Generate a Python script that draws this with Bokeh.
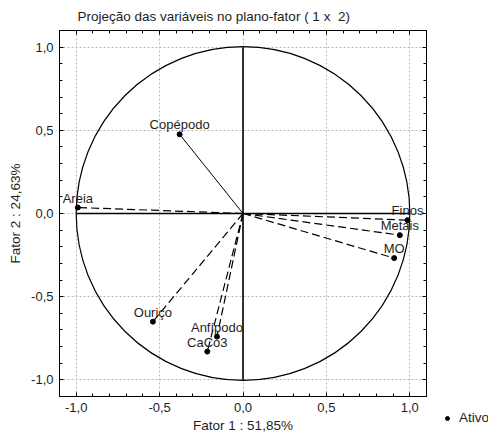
from bokeh.plotting import figure
from bokeh.models import (ColumnDataSource, FixedTicker, LinearAxis, Range1d,
                          Legend, LegendItem, Title)
from bokeh.layouts import row, column
from bokeh.core.properties import value
from bokeh.embed import file_html
from bokeh.resources import INLINE

# ---- data ----
names = ["Areia", "Copépodo", "Finos", "Metais", "MO", "Ouriço", "Anfípodo", "CaCo3"]
fator1 = [-0.99, -0.38, 0.986, 0.94, 0.906, -0.54, -0.156, -0.214]
fator2 = [0.036, 0.476, -0.04, -0.13, -0.268, -0.65, -0.74, -0.83]
solid_names = ["Copépodo"]

major_ticks = [-1.0, -0.5, 0.0, 0.5, 1.0]
major_labels = ["-1,0", "-0,5", "0,0", "0,5", "1,0"]
minor_ticks = [round(-1.1 + 0.1 * i, 2) for i in range(23)]

title_text = "Projeção das variáveis no plano-fator ( 1 x \u00a02)"
xlabel_text = "Fator 1 : 51,85%"
ylabel_text = "Fator 2 : 24,63%"
legend_text = "Ativo"
legend_marker_x = [0.0]   # key proxy, lies outside its own panel's visible range
legend_marker_y = [0.0]

FONT = "Liberation Sans"
TXT = "#1e1e1e"

p = figure(width=430, height=435, output_backend="svg", toolbar_location=None,
           x_range=Range1d(-1.1, 1.1), y_range=Range1d(-1.1, 1.1),
           min_border_left=59, min_border_right=4, min_border_top=30,
           min_border_bottom=39, x_axis_location=None, y_axis_location=None)
p.outline_line_color = "black"
p.outline_line_width = 1
p.background_fill_color = "white"
p.border_fill_color = "white"

p.title = Title(text=title_text, align="left", offset=18, standoff=13,
                text_font=FONT, text_font_size="13.5px", text_font_style="normal",
                text_color=TXT)

ticker = FixedTicker(ticks=major_ticks, minor_ticks=minor_ticks)
overrides = {t: l for t, l in zip(major_ticks, major_labels)}

def make_axis(show_labels, standoff, label=None, label_standoff=0):
    ax = LinearAxis(ticker=ticker)
    ax.major_label_overrides = overrides
    ax.axis_line_color = "black"
    ax.major_tick_in = 4
    ax.major_tick_out = 0
    ax.minor_tick_in = 3
    ax.minor_tick_out = 0
    ax.major_tick_line_color = "black"
    ax.minor_tick_line_color = "black"
    ax.major_label_text_font = FONT
    ax.major_label_text_color = TXT
    if show_labels:
        ax.major_label_text_font_size = "13px"
        ax.major_label_standoff = standoff
    else:
        ax.major_label_text_font_size = "0px"
        ax.major_label_standoff = 0
    if label:
        ax.axis_label = label
        ax.axis_label_standoff = label_standoff
        ax.axis_label_text_font = FONT
        ax.axis_label_text_font_size = "13.5px"
        ax.axis_label_text_font_style = "normal"
        ax.axis_label_text_color = TXT
    return ax

p.add_layout(make_axis(True, 6, xlabel_text, 3), "below")
p.add_layout(make_axis(True, 6, ylabel_text, 5), "left")
p.add_layout(make_axis(False, 0), "above")
p.add_layout(make_axis(False, 0), "right")

p.xgrid.ticker = ticker
p.ygrid.ticker = ticker
for g in (p.xgrid, p.ygrid):
    g.grid_line_color = "#b8b8b8"
    g.grid_line_dash = "2 2"
    g.grid_line_width = 1

# unit circle and axis lines
p.circle(x=[0], y=[0], radius=1, fill_color=None, line_color="black", line_width=1.2)
p.segment(x0=[-1, 0], y0=[0, -1], x1=[1, 0], y1=[0, 1], line_color="black", line_width=1.6)

# vectors
dash_idx = [i for i, n in enumerate(names) if n not in solid_names]
solid_idx = [i for i, n in enumerate(names) if n in solid_names]
p.segment(x0=[0] * len(dash_idx), y0=[0] * len(dash_idx),
          x1=[fator1[i] for i in dash_idx], y1=[fator2[i] for i in dash_idx],
          line_color="black", line_width=1.2, line_dash="8 4")
p.segment(x0=[0] * len(solid_idx), y0=[0] * len(solid_idx),
          x1=[fator1[i] for i in solid_idx], y1=[fator2[i] for i in solid_idx],
          line_color="black", line_width=1)

src = ColumnDataSource(dict(x=fator1, y=fator2, name=names))
p.scatter("x", "y", source=src, size=5, color="black")
p.text("x", "y", text="name", source=src, text_font=value(FONT), text_font_size="13px",
       text_color=TXT, text_align="center", text_baseline="bottom", y_offset=-2)

# legend panel at the right (own small plot, frame covers whole panel)
lg = figure(width=58, height=435, output_backend="svg", toolbar_location=None,
            x_axis_location=None, y_axis_location=None,
            x_range=Range1d(10, 11), y_range=Range1d(10, 11),
            min_border_left=0, min_border_right=0, min_border_top=0, min_border_bottom=0)
lg.outline_line_color = None
lg.grid.visible = False
lg.background_fill_color = "white"
lg.border_fill_color = "white"
proxy = lg.scatter(x=legend_marker_x, y=legend_marker_y, size=5, color="black")
legend = Legend(items=[LegendItem(label=legend_text, renderers=[proxy])], location=(12, 10))
legend.border_line_color = None
legend.background_fill_alpha = 0
legend.padding = 0
legend.margin = 0
legend.glyph_width = 10
legend.glyph_height = 12
legend.label_height = 12
legend.label_standoff = 7
legend.label_text_font = FONT
legend.label_text_font_size = "13.5px"
legend.label_text_color = TXT
legend.label_text_baseline = "middle"
lg.add_layout(legend, "center")

layout = row(p, column(lg, spacing=0), spacing=0)
open("out.html", "w").write(file_html(layout, INLINE))
